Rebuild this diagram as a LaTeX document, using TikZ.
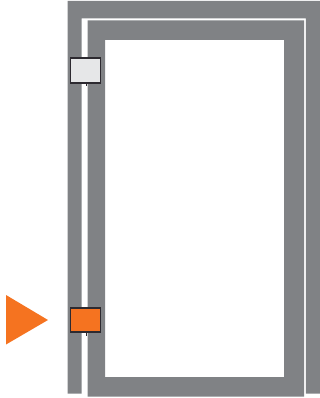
\documentclass[tikz,border=0pt]{standalone}
\definecolor{wallgray}{RGB}{128,130,133}
\definecolor{markorange}{RGB}{245,115,32}
\definecolor{markpale}{RGB}{230,231,232}
\definecolor{markedge}{RGB}{45,42,48}
\tikzset{
  x=1pt,y=-1pt,
  wall/.style={fill=wallgray,draw=none},
  marker/.style={draw=markedge,line width=1.9pt,minimum width=30pt,minimum height=24.5pt,inner sep=0pt,outer sep=0pt},
  tick/.style={draw=markedge,line width=0.8pt},
  pointer/.style={fill=markorange,draw=none}
}
\begin{document}
\begin{tikzpicture}
\useasboundingbox (0,0) rectangle (320,398);
% outer channel
\fill[wall,even odd rule] (67.5,1) -- (320,1) -- (320,393.5) -- (305.8,393.5) -- (305.8,18.3) -- (81.5,18.3) -- (81.5,393.5) -- (67.5,393.5) -- cycle;
% inner frame
\fill[wall,even odd rule] (87.5,20.3) rectangle (304,396.5) (105,40) rectangle (284,377);
% markers
\node[marker,fill=markpale] (top) at (85.5,70.5) {};
\node[marker,fill=markorange] (bottom) at (85.5,320) {};
\coordinate (toptick) at (86,86);
\coordinate (bottomtick) at (86,335.5);
\draw[tick] (top.south) ++(0.5,0) -- (toptick);
\draw[tick] (bottom.south) ++(0.5,0) -- (bottomtick);
% pointer
\fill[pointer] (6,295) -- (48,320) -- (6,344.5) -- cycle;
\end{tikzpicture}
\end{document}
